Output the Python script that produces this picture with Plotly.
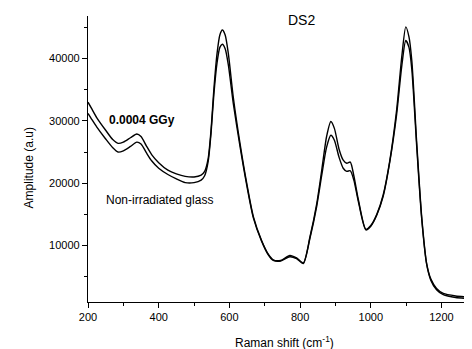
import plotly.graph_objects as go

raman_shift = [200, 210, 225, 250, 270, 285, 300, 320, 338, 350, 365, 380, 400, 426, 450, 475, 500,
               520, 530, 540, 548, 556, 565, 573, 580, 588, 597, 611, 630, 649, 668, 691, 710, 724,
               745, 771, 790, 809, 828, 847, 861, 875, 887, 897, 910, 922, 932, 942, 952, 965, 986,
               1000, 1017, 1035, 1054, 1073, 1088, 1099, 1108, 1116, 1130, 1144, 1158, 1170, 1186,
               1205, 1240, 1286]

irradiated = [33000, 32000, 30500, 28500, 27000, 26400, 26600, 27300, 27900, 27500, 26000, 24600,
              23300, 22100, 21500, 21100, 21000, 21300, 21900, 24000, 28500, 35000, 40800, 43800,
              44600, 43800, 40800, 33800, 26400, 20000, 14600, 10800, 8600, 7700, 7600, 8400, 8000,
              7200, 11400, 16700, 22000, 27500, 29900, 28800, 25500, 23700, 23200, 23400, 21200,
              17300, 12600, 13200, 15000, 18100, 23700, 31700, 40500, 45100, 43500, 39700, 26400,
              14600, 7100, 4600, 3100, 2300, 1900, 1700]

non_irradiated = [31200, 30300, 29000, 27100, 25700, 25000, 25200, 25900, 26600, 26300, 24900,
                  23600, 22400, 21400, 20700, 20100, 20100, 20500, 21200, 23500, 28000, 34200,
                  39300, 41800, 42300, 41600, 39000, 32800, 25900, 19700, 14400, 10700, 8500, 7600,
                  7500, 8200, 7900, 7100, 11200, 16300, 21200, 25800, 27700, 26900, 24200, 22400,
                  21900, 22000, 20500, 17000, 12500, 13100, 14900, 17900, 23500, 31000, 39000,
                  42900, 41800, 38300, 25800, 14300, 7000, 4400, 2900, 2100, 1650, 1450]

x_ticks = [200, 400, 600, 800, 1000, 1200]
y_ticks = [10000, 20000, 30000, 40000]

FONT = "Liberation Sans, Arial, sans-serif"

fig = go.Figure()
for ys in (irradiated, non_irradiated):
    fig.add_trace(go.Scatter(x=raman_shift, y=ys, mode="lines",
                             line=dict(color="black", width=1.4, shape="spline", smoothing=0.7),
                             showlegend=False, hoverinfo="skip"))

fig.add_annotation(x=254, y=30100, text="<b>0.0004 GGy</b>", showarrow=False,
                   xanchor="left", yanchor="middle", font=dict(family=FONT, size=12, color="black"))
fig.add_annotation(x=245, y=17250, text="Non-irradiated glass", showarrow=False,
                   xanchor="left", yanchor="middle", font=dict(family=FONT, size=12, color="black"))
fig.add_annotation(x=803, y=46150, text="DS2", showarrow=False,
                   xanchor="center", yanchor="middle", font=dict(family=FONT, size=14, color="black"))

fig.add_annotation(xref="paper", yref="paper", x=0, y=0.467, xshift=-59, text="Amplitude (a.u)",
                   textangle=-90, showarrow=False, xanchor="center", yanchor="middle",
                   font=dict(family=FONT, size=12, color="black"))
fig.add_annotation(xref="paper", yref="paper", x=0.513, y=0, yshift=-40,
                   text="Raman shift (cm<sup>-1</sup>)", showarrow=False,
                   xanchor="center", yanchor="middle", font=dict(family=FONT, size=12, color="black"))

fig.update_xaxes(range=[200, 1286.3], showline=True, linecolor="black", linewidth=1.2,
                 tickmode="array", tickvals=x_ticks, ticks="outside", ticklen=5, tickwidth=1,
                 tickcolor="black", showgrid=False, zeroline=False, tickformat="d",
                 tickfont=dict(family=FONT, size=11, color="black"),
                 minor=dict(tickvals=[300, 500, 700, 900, 1100], ticks="outside", ticklen=3,
                            tickwidth=1, tickcolor="black", showgrid=False))
fig.update_yaxes(range=[930, 46840], showline=True, linecolor="black", linewidth=1.2,
                 tickmode="array", tickvals=y_ticks, ticks="outside", ticklen=5, tickwidth=1,
                 tickcolor="black", showgrid=False, zeroline=False, tickformat="d",
                 tickfont=dict(family=FONT, size=11, color="black"),
                 minor=dict(tickvals=[5000, 15000, 25000, 35000, 45000], ticks="outside",
                            ticklen=3, tickwidth=1, tickcolor="black", showgrid=False))

fig.update_layout(width=464, height=341, margin=dict(l=80, r=0, t=8, b=47, autoexpand=False),
                  plot_bgcolor="white", paper_bgcolor="white")

fig.write_html("out.html")
